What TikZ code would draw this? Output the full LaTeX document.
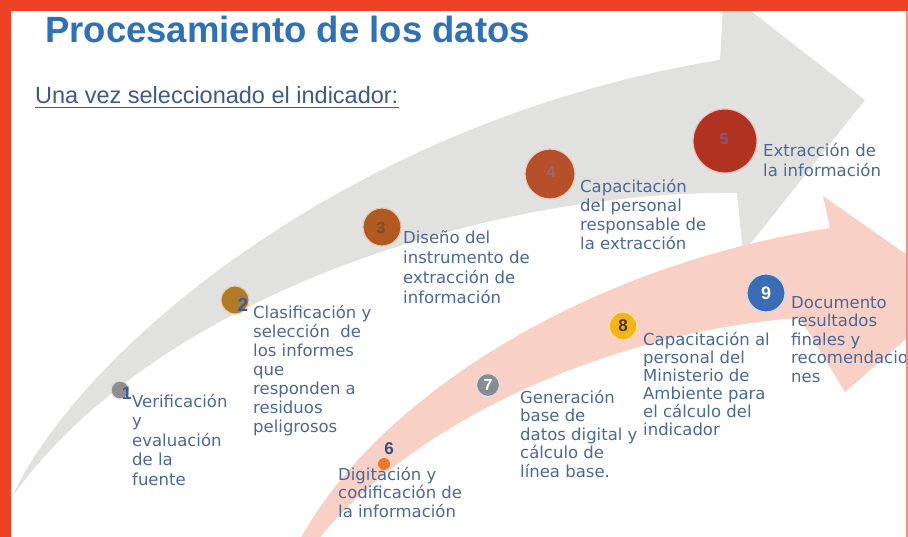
\documentclass[tikz,border=0pt]{standalone}
\usepackage{fontspec}
\newfontfamily\bodyf{DejaVu Sans}
\newfontfamily\arialf{Liberation Sans}
\definecolor{brd}{HTML}{EE4224}
\definecolor{brdlight}{HTML}{F39080}
\definecolor{grayarrow}{HTML}{E1E1E0}
\definecolor{pinkarrow}{HTML}{F9D0C5}
\definecolor{txtc}{HTML}{4A689A}
\definecolor{titlec}{HTML}{2F71B4}
\definecolor{subc}{HTML}{3C5A8C}
\definecolor{numc}{HTML}{3D5E94}
\definecolor{c1}{HTML}{8E8E8E}
\definecolor{c2}{HTML}{B07A28}
\definecolor{c3}{HTML}{B05A22}
\definecolor{c4}{HTML}{B5502A}
\definecolor{c5}{HTML}{B23222}
\definecolor{c6}{HTML}{E8792A}
\definecolor{c7}{HTML}{878C94}
\definecolor{c8}{HTML}{F4B41A}
\definecolor{c9}{HTML}{3B6CB4}
\definecolor{n3c}{HTML}{7E4A30}
\definecolor{n4c}{HTML}{9A6A74}
\definecolor{n5c}{HTML}{8A5486}
\tikzset{
  txt/.style={anchor=north west, inner sep=0pt, align=left, text=txtc,
    font=\bodyf\fontsize{16.5}{#1}\selectfont},
  dot/.style={circle, inner sep=0pt, minimum size=#1, line width=1.2pt},
  numb/.style={inner sep=0pt, font=\arialf\bfseries\fontsize{#1}{#1}\selectfont}
}
\newcommand{\fl}{\rule{0pt}{14pt}}
\begin{document}
\begin{tikzpicture}[x=1pt,y=-1pt]
\useasboundingbox (0,0) rectangle (908,537);
\clip (0,0) rectangle (908,537);
\fill[white] (0,0) rectangle (908,537);
% gray arrow
\fill[grayarrow] (12,497) .. controls (80,350) and (350,120) .. (720,60)
  -- (724,-10) -- (865,100) -- (743,253) -- (737,193)
  .. controls (500,190) and (160,290) .. (12,497) -- cycle;
% pink arrow
\fill[pinkarrow] (290,560) .. controls (352,420) and (560,270) .. (830,228)
  -- (823,196) -- (960,292) -- (845,392) -- (800,318)
  .. controls (620,330) and (400,420) .. (303,560) -- cycle;

% title
\node[anchor=base west, inner sep=0pt, text=titlec,
  font=\arialf\bfseries\fontsize{36.5}{40}\selectfont] (title) at (45,43) {Procesamiento de los datos};
\node[anchor=base west, inner sep=0pt, text=subc,
  font=\arialf\fontsize{23.5}{26}\selectfont] (sub) at (35,104) {Una vez seleccionado el indicador:};
\draw[subc, line width=1.2pt] ([yshift=-3.5pt]sub.base west) -- ([yshift=-3.5pt]sub.base east);

% circles
\node[dot=18pt, fill=c1, draw=c1!30!white] (k1) at (120,390) {};
\node[dot=28pt, fill=c2, draw=c2!35!white] (k2) at (235,300) {};
\node[dot=38pt, fill=c3, draw=c3!35!white] (k3) at (382,227) {};
\node[dot=50pt, fill=c4, draw=c4!30!white] (k4) at (550,174) {};
\node[dot=64pt, fill=c5, draw=c5!30!white] (k5) at (725,141) {};
\node[dot=12pt, fill=c6, draw=none] (k6) at (384,464) {};
\node[dot=23pt, fill=c7, draw=c7!30!white] (k7) at (488,385) {};
\node[dot=28pt, fill=c8, draw=c8!35!white] (k8) at (623,326) {};
\node[dot=38pt, fill=c9, draw=c9!25!white] (k9) at (766,293) {};

% numbers
\node[numb=18, text=numc] (n1) at (127,393) {1};
\node[numb=19, text=numc] (n2) at (243,305) {2};
\node[numb=16, text=n3c] (n3) at (381,228) {3};
\node[numb=16, text=n4c] (n4) at (551,172) {4};
\node[numb=16, text=n5c] (n5) at (724,139) {5};
\node[numb=17, text=numc!85!black] (n6) at (389,449) {6};
\node[numb=16, text=white] (n7) at (488,385) {7};
\node[numb=17, text=c8!30!black] (n8) at (623,326) {8};
\node[numb=18, text=white] (n9) at (766,293) {9};

% texts
\node[txt=19.5] (t1) at (132,393) {\fl Verificación\\y\\evaluación\\de la\\fuente};
\node[txt=19] (t2) at (253,304) {\fl Clasificación y\\selección\ \ de\\los informes\\que\\responden a\\residuos\\peligrosos};
\node[txt=20] (t3) at (403,229) {\fl Diseño del\\instrumento de\\extracción de\\información};
\node[txt=19] (t4) at (580,178) {\fl Capacitación\\del personal\\responsable de\\la extracción};
\node[txt=20] (t5) at (763,142) {\fl Extracción de\\la información};
\node[txt=18.5] (t6) at (338,466) {\fl Digitación y\\codificación de\\la información};
\node[txt=18.5] (t7) at (520,389) {\fl Generación\\base de\\datos digital y\\cálculo de\\línea base.};
\node[txt=18] (t8) at (643,331) {\fl Capacitación al\\personal del\\Ministerio de\\Ambiente para\\el cálculo del\\indicador};
\node[txt=18.5] (t9) at (791,294) {\fl Documento\\resultados\\finales y\\recomendacio\\nes};

% border
\fill[brd] (0,0) rectangle (11,537);
\fill[brd] (0,0) rectangle (908,11);
\fill[brdlight] (905.5,11) rectangle (908,537);
\end{tikzpicture}
\end{document}
